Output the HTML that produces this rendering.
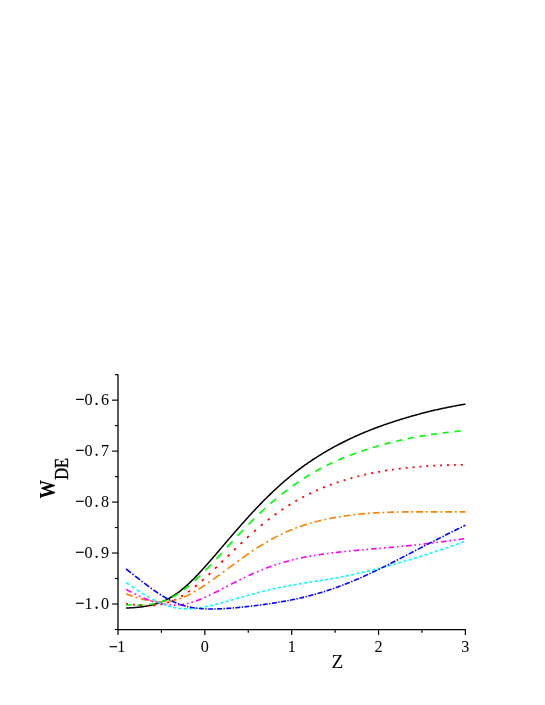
<!DOCTYPE html>
<html><head><meta charset="utf-8"><title>w_DE vs z</title>
<style>html,body{margin:0;padding:0;background:#fff;}body{width:545px;height:705px;overflow:hidden;font-family:"Liberation Serif",serif;}svg{display:block;will-change:transform;}</style></head>
<body>
<svg width="545" height="705" viewBox="0 0 545 705">
<rect width="545" height="705" fill="#fff"/>
<g fill="none" stroke-linecap="butt" stroke-linejoin="round">
<path d="M126.1,607.99 L127.1,607.96 L128.1,607.92 L129.1,607.88 L130.1,607.83 L131.1,607.78 L132.1,607.72 L133.1,607.66 L134.1,607.59 L135.1,607.52 L136.1,607.44 L137.1,607.35 L138.1,607.26 L139.1,607.16 L140.1,607.05 L141.1,606.93 L142.1,606.80 L143.1,606.67 L144.1,606.52 L145.1,606.36 L146.1,606.19 L147.1,606.02 L148.1,605.83 L149.1,605.62 L150.1,605.41 L151.1,605.18 L152.1,604.94 L153.1,604.68 L154.1,604.41 L155.1,604.12 L156.1,603.82 L157.1,603.51 L158.1,603.17 L159.1,602.82 L160.1,602.46 L161.1,602.07 L162.1,601.67 L163.1,601.25 L164.1,600.81 L165.1,600.35 L166.1,599.87 L167.1,599.37 L168.1,598.85 L169.1,598.31 L170.1,597.75 L171.1,597.17 L172.1,596.57 L173.1,595.95 L174.1,595.31 L175.1,594.65 L176.1,593.97 L177.1,593.26 L178.1,592.54 L179.1,591.79 L180.1,591.03 L181.1,590.24 L182.1,589.44 L183.1,588.61 L184.1,587.77 L185.1,586.91 L186.1,586.03 L187.1,585.13 L188.1,584.22 L189.1,583.29 L190.1,582.34 L191.1,581.38 L192.1,580.40 L193.1,579.41 L194.1,578.41 L195.1,577.39 L196.1,576.36 L197.1,575.32 L198.1,574.27 L199.1,573.20 L200.1,572.13 L201.1,571.05 L202.1,569.95 L203.1,568.85 L204.1,567.74 L205.1,566.62 L206.1,565.50 L207.1,564.37 L208.1,563.23 L209.1,562.09 L210.1,560.94 L211.1,559.79 L212.1,558.64 L213.1,557.48 L214.1,556.32 L215.1,555.15 L216.1,553.99 L217.1,552.82 L218.1,551.65 L219.1,550.48 L220.1,549.31 L221.1,548.13 L222.1,546.96 L223.1,545.79 L224.1,544.62 L225.1,543.45 L226.1,542.28 L227.1,541.11 L228.1,539.94 L229.1,538.78 L230.1,537.62 L231.1,536.45 L232.1,535.30 L233.1,534.14 L234.1,532.99 L235.1,531.83 L236.1,530.69 L237.1,529.54 L238.1,528.40 L239.1,527.26 L240.1,526.13 L241.1,525.00 L242.1,523.87 L243.1,522.74 L244.1,521.63 L245.1,520.51 L246.1,519.40 L247.1,518.29 L248.1,517.19 L249.1,516.10 L250.1,515.01 L251.1,513.92 L252.1,512.84 L253.1,511.76 L254.1,510.69 L255.1,509.63 L256.1,508.57 L257.1,507.51 L258.1,506.47 L259.1,505.42 L260.1,504.39 L261.1,503.36 L262.1,502.33 L263.1,501.32 L264.1,500.30 L265.1,499.30 L266.1,498.30 L267.1,497.31 L268.1,496.32 L269.1,495.35 L270.1,494.37 L271.1,493.41 L272.1,492.45 L273.1,491.50 L274.1,490.56 L275.1,489.62 L276.1,488.69 L277.1,487.77 L278.1,486.86 L279.1,485.95 L280.1,485.05 L281.1,484.16 L282.1,483.27 L283.1,482.40 L284.1,481.53 L285.1,480.66 L286.1,479.81 L287.1,478.96 L288.1,478.12 L289.1,477.29 L290.1,476.47 L291.1,475.65 L292.1,474.84 L293.1,474.04 L294.1,473.24 L295.1,472.46 L296.1,471.68 L297.1,470.91 L298.1,470.14 L299.1,469.38 L300.1,468.63 L301.1,467.89 L302.1,467.15 L303.1,466.42 L304.1,465.70 L305.1,464.98 L306.1,464.27 L307.1,463.57 L308.1,462.88 L309.1,462.19 L310.1,461.51 L311.1,460.83 L312.1,460.16 L313.1,459.50 L314.1,458.84 L315.1,458.19 L316.1,457.55 L317.1,456.91 L318.1,456.28 L319.1,455.65 L320.1,455.03 L321.1,454.41 L322.1,453.80 L323.1,453.20 L324.1,452.60 L325.1,452.01 L326.1,451.42 L327.1,450.84 L328.1,450.27 L329.1,449.70 L330.1,449.13 L331.1,448.57 L332.1,448.01 L333.1,447.46 L334.1,446.92 L335.1,446.37 L336.1,445.84 L337.1,445.31 L338.1,444.78 L339.1,444.26 L340.1,443.74 L341.1,443.22 L342.1,442.72 L343.1,442.21 L344.1,441.71 L345.1,441.21 L346.1,440.72 L347.1,440.23 L348.1,439.75 L349.1,439.27 L350.1,438.80 L351.1,438.32 L352.1,437.86 L353.1,437.39 L354.1,436.93 L355.1,436.48 L356.1,436.03 L357.1,435.58 L358.1,435.13 L359.1,434.70 L360.1,434.26 L361.1,433.83 L362.1,433.40 L363.1,432.98 L364.1,432.56 L365.1,432.14 L366.1,431.73 L367.1,431.32 L368.1,430.91 L369.1,430.51 L370.1,430.11 L371.1,429.72 L372.1,429.33 L373.1,428.94 L374.1,428.56 L375.1,428.18 L376.1,427.80 L377.1,427.43 L378.1,427.06 L379.1,426.69 L380.1,426.33 L381.1,425.97 L382.1,425.61 L383.1,425.25 L384.1,424.90 L385.1,424.55 L386.1,424.20 L387.1,423.86 L388.1,423.52 L389.1,423.18 L390.1,422.85 L391.1,422.51 L392.1,422.18 L393.1,421.85 L394.1,421.53 L395.1,421.21 L396.1,420.88 L397.1,420.57 L398.1,420.25 L399.1,419.94 L400.1,419.62 L401.1,419.31 L402.1,419.01 L403.1,418.70 L404.1,418.40 L405.1,418.10 L406.1,417.80 L407.1,417.50 L408.1,417.21 L409.1,416.92 L410.1,416.63 L411.1,416.34 L412.1,416.05 L413.1,415.77 L414.1,415.49 L415.1,415.21 L416.1,414.93 L417.1,414.66 L418.1,414.38 L419.1,414.11 L420.1,413.85 L421.1,413.58 L422.1,413.32 L423.1,413.06 L424.1,412.80 L425.1,412.54 L426.1,412.29 L427.1,412.03 L428.1,411.78 L429.1,411.54 L430.1,411.29 L431.1,411.05 L432.1,410.81 L433.1,410.57 L434.1,410.34 L435.1,410.10 L436.1,409.87 L437.1,409.65 L438.1,409.42 L439.1,409.20 L440.1,408.98 L441.1,408.76 L442.1,408.54 L443.1,408.33 L444.1,408.11 L445.1,407.90 L446.1,407.70 L447.1,407.49 L448.1,407.29 L449.1,407.09 L450.1,406.89 L451.1,406.69 L452.1,406.50 L453.1,406.31 L454.1,406.12 L455.1,405.93 L456.1,405.74 L457.1,405.56 L458.1,405.38 L459.1,405.20 L460.1,405.02 L461.1,404.85 L462.1,404.67 L463.1,404.50 L464.1,404.33 L465.1,404.17 L465.4,404.12" stroke="#000000" stroke-width="1.5"/>
<path d="M126.1,604.86 L127.0,604.90 L128.0,604.94 L129.0,604.98 L130.0,605.01 L131.0,605.04 L131.8,605.06 M137.4,605.15 L138.3,605.14 L139.3,605.13 L140.3,605.12 L141.3,605.09 L142.3,605.05 L143.3,605.01 L143.4,605.00 M149.1,604.53 L150.0,604.41 L151.0,604.27 L152.0,604.12 L153.0,603.95 L154.0,603.76 L155.0,603.56 L155.1,603.54 M160.7,602.09 L161.7,601.78 L162.7,601.45 L163.7,601.09 L164.7,600.72 L165.7,600.33 L166.7,599.92 L166.7,599.92 M172.2,597.27 L173.2,596.75 L174.2,596.19 L175.2,595.60 L176.2,595.00 L177.2,594.37 L178.1,593.78 M183.6,589.97 L184.5,589.26 L185.5,588.49 L186.5,587.70 L187.5,586.90 L188.5,586.09 L189.3,585.41 M194.6,580.80 L195.6,579.94 L196.6,579.02 L197.6,578.10 L198.6,577.16 L199.6,576.21 L200.3,575.53 M205.6,570.36 L206.5,569.40 L207.5,568.38 L208.5,567.35 L209.5,566.31 L210.5,565.27 L211.1,564.59 M216.3,559.05 L217.3,558.00 L218.3,556.91 L219.3,555.82 L220.3,554.73 L221.3,553.63 L221.9,553.01 M227.0,547.33 L228.0,546.27 L229.0,545.18 L230.0,544.08 L231.0,542.98 L232.0,541.89 L232.6,541.27 M237.7,535.66 L238.7,534.64 L239.7,533.58 L240.7,532.51 L241.7,531.46 L242.7,530.40 L243.3,529.76 M248.5,524.37 L249.5,523.38 L250.5,522.37 L251.5,521.37 L252.5,520.37 L253.5,519.38 L254.1,518.75 M259.4,513.66 L260.3,512.81 L261.3,511.87 L262.3,510.93 L263.3,510.01 L264.3,509.09 L265.1,508.39 M270.4,503.65 L271.3,502.84 L272.3,501.98 L273.3,501.12 L274.3,500.27 L275.3,499.43 L276.1,498.76 M281.5,494.39 L282.4,493.64 L283.4,492.86 L284.4,492.08 L285.4,491.31 L286.4,490.54 L287.2,489.91 M292.6,485.93 L293.6,485.24 L294.6,484.53 L295.6,483.83 L296.6,483.14 L297.6,482.45 L298.5,481.86 M303.9,478.27 L304.9,477.64 L305.9,477.02 L306.9,476.39 L307.9,475.78 L308.9,475.17 L309.8,474.64 M315.3,471.44 L316.2,470.92 L317.2,470.37 L318.2,469.82 L319.2,469.28 L320.2,468.75 L321.2,468.22 M326.7,465.41 L327.7,464.92 L328.7,464.44 L329.7,463.96 L330.7,463.49 L331.7,463.02 L332.6,462.58 M338.2,460.10 L339.1,459.71 L340.1,459.29 L341.1,458.87 L342.1,458.45 L343.1,458.04 L344.1,457.63 L344.2,457.60 M349.7,455.41 L350.7,455.04 L351.7,454.67 L352.7,454.29 L353.7,453.92 L354.7,453.56 L355.7,453.20 L355.7,453.19 M361.3,451.24 L362.2,450.93 L363.2,450.60 L364.2,450.26 L365.2,449.93 L366.2,449.61 L367.2,449.28 L367.3,449.25 M372.9,447.50 L373.8,447.23 L374.8,446.92 L375.8,446.63 L376.8,446.33 L377.8,446.04 L378.8,445.75 L378.9,445.72 M384.5,444.16 L385.4,443.91 L386.4,443.65 L387.4,443.38 L388.4,443.12 L389.4,442.86 L390.4,442.61 L390.5,442.58 M396.1,441.20 L397.1,440.97 L398.1,440.74 L399.1,440.51 L400.1,440.28 L401.1,440.05 L402.1,439.83 L402.1,439.82 M407.8,438.63 L408.7,438.44 L409.7,438.24 L410.7,438.05 L411.7,437.85 L412.7,437.66 L413.7,437.47 L413.8,437.46 M419.4,436.44 L420.4,436.27 L421.4,436.10 L422.4,435.93 L423.4,435.76 L424.4,435.60 L425.4,435.44 L425.4,435.43 M431.1,434.56 L432.0,434.43 L433.0,434.28 L434.0,434.14 L435.0,433.99 L436.0,433.85 L437.0,433.71 L437.1,433.70 M442.7,432.95 L443.7,432.83 L444.7,432.71 L445.7,432.58 L446.7,432.46 L447.7,432.34 L448.7,432.22 L448.8,432.21 M454.4,431.57 L455.4,431.46 L456.4,431.36 L457.4,431.25 L458.4,431.15 L459.4,431.04 L460.4,430.94 L460.5,430.94" stroke="#00ff00" stroke-width="1.65"/>
<path d="M126.1,603.72 L127.0,603.83 L127.8,603.94 M132.8,604.55 L133.8,604.67 L134.7,604.77 M139.7,605.28 L140.6,605.36 L141.6,605.44 M146.6,605.71 L147.5,605.73 L148.5,605.74 M153.5,605.56 L154.4,605.48 L155.4,605.39 M160.4,604.62 L161.3,604.43 L162.3,604.21 M167.3,602.81 L168.2,602.50 L169.2,602.15 M174.2,600.11 L175.1,599.68 L176.1,599.21 M181.1,596.51 L182.0,595.96 L183.0,595.35 M188.0,592.02 L188.9,591.36 L189.9,590.64 M194.9,586.76 L195.8,586.00 L196.8,585.20 M201.8,580.89 L202.7,580.07 L203.7,579.20 M208.5,574.74 L209.5,573.82 L210.3,573.04 M215.0,568.58 L215.9,567.71 L216.8,566.89 M221.3,562.42 L222.3,561.49 L223.1,560.73 M227.7,556.27 L228.6,555.35 L229.4,554.57 M234.0,550.11 L235.0,549.16 L235.8,548.41 M240.5,543.95 L241.4,543.07 L242.3,542.25 M247.1,537.79 L248.0,536.95 L248.9,536.10 M253.9,531.65 L254.9,530.80 L255.8,529.99 M260.8,525.74 L261.8,524.93 L262.7,524.17 M267.7,520.16 L268.7,519.40 L269.6,518.69 M274.6,514.93 L275.6,514.21 L276.5,513.55 M281.5,510.05 L282.5,509.38 L283.4,508.77 M288.4,505.52 L289.4,504.90 L290.3,504.33 M295.3,501.32 L296.3,500.74 L297.2,500.22 M302.2,497.44 L303.2,496.91 L304.1,496.43 M309.1,493.88 L310.0,493.44 L311.0,492.96 M316.0,490.64 L316.9,490.23 L317.9,489.80 M322.9,487.69 L323.8,487.33 L324.8,486.94 M329.8,485.03 L330.7,484.70 L331.7,484.34 M336.7,482.60 L337.6,482.30 L338.6,481.97 M343.6,480.39 L344.5,480.11 L345.5,479.81 M350.5,478.36 L351.4,478.10 L352.4,477.83 M357.4,476.50 L358.3,476.27 L359.3,476.02 M364.3,474.82 L365.2,474.61 L366.2,474.39 M371.2,473.31 L372.1,473.12 L373.1,472.92 M378.1,471.96 L379.0,471.79 L380.0,471.61 M385.0,470.76 L385.9,470.61 L386.9,470.46 M391.9,469.71 L392.8,469.58 L393.8,469.44 M398.8,468.79 L399.7,468.67 L400.7,468.56 M405.7,467.99 L406.6,467.89 L407.6,467.79 M412.6,467.29 L413.5,467.20 L414.5,467.12 M419.5,466.69 L420.4,466.62 L421.3,466.54 M426.3,466.18 L427.3,466.12 L428.2,466.05 M433.2,465.75 L434.2,465.70 L435.1,465.64 M440.1,465.40 L441.1,465.36 L442.0,465.32 M447.0,465.12 L448.0,465.09 L448.9,465.06 M453.9,464.93 L454.9,464.91 L455.8,464.89 M460.8,464.81 L461.8,464.80 L462.7,464.79" stroke="#ff0000" stroke-width="1.75"/>
<path d="M126.1,593.92 L127.0,594.24 L128.0,594.59 L129.0,594.94 L130.0,595.28 L131.0,595.63 L132.0,595.96 L132.8,596.21 M135.7,597.15 L136.6,597.44 L137.5,597.71 M140.5,598.58 L141.4,598.84 L142.4,599.11 L143.4,599.36 L144.4,599.61 L145.4,599.85 L146.4,600.07 L147.3,600.26 M150.2,600.82 L151.1,600.98 L152.0,601.11 M155.0,601.50 L155.9,601.59 L156.9,601.68 L157.9,601.75 L158.9,601.80 L159.9,601.84 L160.9,601.85 L161.8,601.86 M164.7,601.77 L165.6,601.70 L166.5,601.63 M169.5,601.26 L170.4,601.11 L171.4,600.93 L172.4,600.73 L173.4,600.51 L174.4,600.27 L175.4,600.00 L176.3,599.75 M179.2,598.83 L180.2,598.47 L181.0,598.18 M184.0,596.96 L185.0,596.53 L186.0,596.07 L187.0,595.61 L188.0,595.12 L189.0,594.63 L190.0,594.12 L190.8,593.69 M193.7,592.11 L194.7,591.55 L195.5,591.07 M198.5,589.28 L199.5,588.67 L200.5,588.04 L201.5,587.40 L202.5,586.76 L203.5,586.11 L204.5,585.45 L205.3,584.89 M208.2,582.92 L209.2,582.25 L210.0,581.66 M213.0,579.54 L214.0,578.85 L215.0,578.12 L216.0,577.40 L217.0,576.67 L218.0,575.94 L219.0,575.20 L219.8,574.58 M222.7,572.44 L223.7,571.73 L224.5,571.09 M227.6,568.86 L228.5,568.15 L229.5,567.40 L230.5,566.66 L231.5,565.91 L232.5,565.17 L233.5,564.43 L234.4,563.80 M237.3,561.66 L238.2,560.97 L239.1,560.35 M242.1,558.17 L243.0,557.50 L244.0,556.79 L245.0,556.08 L246.0,555.38 L247.0,554.68 L248.0,553.98 L248.9,553.38 M251.8,551.40 L252.7,550.78 L253.6,550.19 M256.6,548.22 L257.5,547.63 L258.5,546.99 L259.5,546.35 L260.5,545.72 L261.5,545.10 L262.5,544.49 L263.4,543.95 M266.3,542.22 L267.2,541.69 L268.1,541.18 M271.1,539.49 L272.0,538.99 L273.0,538.45 L274.0,537.92 L275.0,537.39 L276.0,536.87 L277.0,536.36 L277.9,535.90 M280.8,534.47 L281.8,534.00 L282.6,533.62 M285.6,532.24 L286.6,531.80 L287.6,531.37 L288.6,530.94 L289.6,530.51 L290.6,530.10 L291.6,529.69 L292.4,529.36 M295.3,528.23 L296.3,527.86 L297.1,527.55 M300.1,526.47 L301.1,526.14 L302.1,525.80 L303.1,525.46 L304.1,525.13 L305.1,524.81 L306.1,524.50 L306.9,524.24 M309.8,523.37 L310.8,523.09 L311.6,522.85 M314.6,522.03 L315.6,521.78 L316.6,521.52 L317.6,521.27 L318.6,521.02 L319.6,520.77 L320.6,520.53 L321.4,520.34 M324.4,519.68 L325.3,519.47 L326.2,519.29 M329.2,518.67 L330.1,518.49 L331.1,518.29 L332.1,518.10 L333.1,517.91 L334.1,517.73 L335.1,517.55 L336.0,517.40 M338.9,516.91 L339.8,516.76 L340.7,516.62 M343.7,516.16 L344.6,516.02 L345.6,515.87 L346.6,515.73 L347.6,515.60 L348.6,515.46 L349.6,515.33 L350.5,515.21 M353.4,514.85 L354.3,514.75 L355.2,514.64 M358.2,514.31 L359.1,514.22 L360.1,514.11 L361.1,514.01 L362.1,513.92 L363.1,513.82 L364.1,513.73 L365.0,513.65 M367.9,513.41 L368.8,513.33 L369.7,513.26 M372.7,513.04 L373.7,512.98 L374.7,512.91 L375.7,512.85 L376.7,512.79 L377.7,512.73 L378.7,512.67 L379.5,512.63 M382.4,512.48 L383.4,512.44 L384.2,512.40 M387.2,512.28 L388.2,512.24 L389.2,512.21 L390.2,512.18 L391.2,512.15 L392.2,512.12 L393.2,512.09 L394.0,512.07 M396.9,512.01 L397.9,512.00 L398.7,511.98 M401.7,511.94 L402.7,511.93 L403.7,511.92 L404.7,511.91 L405.7,511.90 L406.7,511.90 L407.7,511.89 L408.5,511.89 M411.4,511.88 L412.4,511.87 L413.2,511.87 M416.2,511.87 L417.2,511.87 L418.2,511.87 L419.2,511.87 L420.2,511.87 L421.2,511.88 L422.2,511.88 L423.1,511.88 M426.0,511.89 L426.9,511.89 L427.8,511.89 M430.8,511.90 L431.7,511.90 L432.7,511.90 L433.7,511.90 L434.7,511.91 L435.7,511.91 L436.7,511.91 L437.6,511.91 M440.5,511.91 L441.4,511.92 L442.3,511.92 M445.3,511.92 L446.2,511.92 L447.2,511.92 L448.2,511.92 L449.2,511.92 L450.2,511.92 L451.2,511.92 L452.1,511.92 M455.0,511.91 L455.9,511.91 L456.8,511.91 M459.8,511.91 L460.7,511.90 L461.7,511.90 L462.7,511.90 L463.7,511.90 L464.7,511.89 L465.4,511.89" stroke="#ff8000" stroke-width="1.6"/>
<path d="M126.1,589.33 L127.0,589.82 L128.0,590.36 L129.0,590.90 L130.0,591.44 L131.0,591.96 L131.5,592.21 M134.4,593.69 L135.3,594.16 L135.9,594.48 M138.8,595.87 L139.8,596.32 L140.4,596.61 M143.5,597.97 L144.5,598.39 L145.5,598.80 L146.5,599.19 L147.5,599.58 L148.5,599.96 L149.0,600.13 M151.9,601.13 L152.8,601.43 L153.4,601.64 M156.3,602.48 L157.3,602.74 L157.9,602.90 M161.0,603.62 L162.0,603.82 L163.0,604.01 L164.0,604.19 L165.0,604.36 L166.0,604.50 L166.5,604.57 M169.4,604.89 L170.3,604.97 L170.9,605.01 M173.8,605.11 L174.8,605.12 L175.4,605.11 M178.5,604.96 L179.5,604.87 L180.5,604.77 L181.5,604.65 L182.5,604.51 L183.5,604.35 L184.0,604.26 M186.9,603.68 L187.8,603.46 L188.5,603.30 M191.3,602.51 L192.3,602.21 L192.9,602.02 M196.0,600.97 L197.0,600.61 L198.0,600.24 L199.0,599.85 L200.0,599.45 L201.0,599.05 L201.5,598.85 M204.4,597.61 L205.3,597.19 L206.0,596.90 M208.8,595.56 L209.8,595.10 L210.4,594.80 M213.5,593.29 L214.5,592.80 L215.5,592.29 L216.5,591.79 L217.5,591.28 L218.5,590.77 L219.0,590.52 M221.9,589.03 L222.8,588.55 L223.5,588.21 M226.3,586.71 L227.3,586.21 L227.9,585.88 M231.0,584.28 L232.0,583.78 L233.0,583.26 L234.0,582.75 L235.0,582.24 L236.0,581.73 L236.5,581.49 M239.4,580.04 L240.3,579.58 L241.0,579.26 M243.8,577.85 L244.8,577.40 L245.4,577.09 M248.5,575.64 L249.5,575.19 L250.5,574.73 L251.5,574.28 L252.5,573.83 L253.5,573.39 L254.0,573.17 M256.9,571.92 L257.8,571.52 L258.5,571.25 M261.3,570.05 L262.3,569.67 L262.9,569.41 M266.0,568.21 L267.0,567.84 L268.0,567.46 L269.0,567.09 L270.0,566.73 L271.0,566.37 L271.5,566.19 M274.4,565.19 L275.3,564.88 L276.0,564.66 M278.8,563.72 L279.8,563.42 L280.4,563.22 M283.5,562.30 L284.5,562.01 L285.5,561.73 L286.5,561.45 L287.5,561.17 L288.5,560.90 L289.0,560.77 M291.9,560.03 L292.8,559.80 L293.5,559.63 M296.4,558.95 L297.3,558.73 L297.9,558.58 M301.0,557.91 L302.0,557.71 L303.0,557.50 L304.0,557.30 L305.0,557.10 L306.0,556.90 L306.5,556.81 M309.4,556.27 L310.3,556.11 L311.0,555.99 M313.9,555.50 L314.8,555.34 L315.4,555.24 M318.5,554.75 L319.5,554.61 L320.5,554.46 L321.5,554.31 L322.5,554.17 L323.5,554.03 L324.0,553.96 M326.9,553.57 L327.8,553.45 L328.5,553.36 M331.4,553.00 L332.3,552.89 L333.0,552.81 M336.0,552.44 L337.0,552.33 L338.0,552.22 L339.0,552.11 L340.0,552.00 L341.0,551.89 L341.5,551.84 M344.4,551.53 L345.3,551.44 L346.0,551.37 M348.9,551.08 L349.8,550.99 L350.5,550.92 M353.5,550.63 L354.5,550.54 L355.5,550.44 L356.5,550.35 L357.5,550.26 L358.5,550.17 L359.0,550.12 M361.9,549.86 L362.8,549.78 L363.5,549.72 M366.4,549.47 L367.3,549.39 L368.0,549.33 M371.0,549.07 L372.0,548.99 L373.0,548.90 L374.0,548.82 L375.0,548.73 L376.0,548.65 L376.5,548.61 M379.4,548.36 L380.3,548.28 L381.0,548.22 M383.9,547.98 L384.8,547.89 L385.5,547.84 M388.5,547.57 L389.5,547.48 L390.5,547.39 L391.5,547.30 L392.5,547.21 L393.5,547.12 L394.0,547.07 M396.9,546.81 L397.8,546.72 L398.5,546.66 M401.4,546.39 L402.3,546.30 L403.0,546.23 M406.0,545.93 L407.0,545.83 L408.0,545.73 L409.0,545.63 L410.0,545.53 L411.0,545.42 L411.5,545.37 M414.4,545.06 L415.3,544.97 L416.0,544.89 M418.9,544.57 L419.8,544.47 L420.5,544.39 M423.5,544.04 L424.5,543.93 L425.5,543.81 L426.5,543.69 L427.5,543.57 L428.5,543.45 L429.0,543.39 M431.9,543.04 L432.9,542.92 L433.5,542.84 M436.4,542.48 L437.3,542.37 L438.0,542.28 M441.1,541.88 L442.0,541.76 L443.0,541.63 L444.0,541.50 L445.0,541.36 L446.0,541.23 L446.5,541.16 M449.4,540.77 L450.4,540.64 L451.0,540.55 M453.9,540.16 L454.8,540.03 L455.5,539.93 M458.6,539.50 L459.5,539.36 L460.5,539.22 L461.5,539.08 L462.5,538.93 L463.5,538.79 L464.0,538.71" stroke="#ff00ff" stroke-width="1.6"/>
<path d="M126.2,582.65 L127.2,583.34 L128.2,584.03 L129.1,584.65 M131.4,586.24 L132.4,586.90 L133.4,587.57 L134.3,588.19 M136.7,589.74 L137.6,590.35 L138.6,591.00 L139.6,591.61 M141.9,593.10 L142.8,593.66 L143.8,594.28 L144.8,594.88 M147.1,596.27 L148.1,596.84 L149.1,597.41 L150.0,597.93 M152.4,599.21 L153.3,599.70 L154.3,600.22 L155.3,600.70 M157.6,601.84 L158.5,602.26 L159.5,602.71 L160.5,603.14 M162.8,604.11 L163.8,604.48 L164.8,604.86 L165.7,605.18 M168.1,605.96 L169.0,606.25 L170.0,606.54 L170.9,606.80 M173.3,607.37 L174.2,607.57 L175.2,607.77 L176.2,607.95 M178.5,608.32 L179.5,608.44 L180.5,608.55 L181.4,608.64 M183.8,608.80 L184.7,608.84 L185.7,608.87 L186.6,608.88 M189.0,608.85 L189.9,608.81 L190.9,608.77 L191.9,608.70 M194.2,608.51 L195.2,608.41 L196.2,608.29 L197.1,608.18 M199.4,607.85 L200.4,607.70 L201.4,607.53 L202.3,607.37 M204.7,606.93 L205.6,606.75 L206.6,606.54 L207.6,606.33 M209.9,605.81 L210.9,605.59 L211.9,605.35 L212.8,605.13 M215.1,604.55 L216.1,604.31 L217.1,604.05 L218.0,603.81 M220.4,603.18 L221.3,602.93 L222.3,602.66 L223.3,602.39 M225.6,601.73 L226.6,601.45 L227.6,601.17 L228.5,600.91 M230.8,600.24 L231.8,599.96 L232.8,599.67 L233.7,599.40 M236.1,598.72 L237.0,598.46 L238.0,598.17 L239.0,597.89 M241.3,597.21 L242.3,596.92 L243.3,596.64 L244.2,596.38 M246.5,595.72 L247.5,595.45 L248.5,595.17 L249.4,594.91 M251.8,594.26 L252.7,594.01 L253.7,593.74 L254.7,593.48 M257.0,592.86 L258.0,592.60 L259.0,592.34 L259.9,592.11 M262.2,591.52 L263.2,591.28 L264.2,591.03 L265.1,590.81 M267.5,590.25 L268.4,590.03 L269.4,589.79 L270.4,589.57 M272.7,589.04 L273.6,588.84 L274.6,588.62 L275.6,588.40 M277.9,587.90 L278.9,587.70 L279.9,587.49 L280.8,587.30 M283.2,586.83 L284.1,586.64 L285.1,586.45 L286.1,586.26 M288.4,585.82 L289.3,585.65 L290.3,585.46 L291.3,585.28 M293.6,584.86 L294.6,584.69 L295.6,584.51 L296.5,584.35 M298.9,583.95 L299.8,583.79 L300.8,583.62 L301.7,583.47 M304.1,583.08 L305.0,582.94 L306.0,582.78 L307.0,582.62 M309.3,582.25 L310.3,582.09 L311.3,581.93 L312.2,581.79 M314.6,581.42 L315.5,581.27 L316.5,581.11 L317.4,580.96 M319.8,580.59 L320.7,580.45 L321.7,580.29 L322.7,580.13 M325.0,579.75 L326.0,579.59 L327.0,579.42 L327.9,579.27 M330.2,578.87 L331.2,578.71 L332.2,578.54 L333.1,578.37 M335.5,577.96 L336.4,577.79 L337.4,577.61 L338.4,577.43 M340.7,576.99 L341.7,576.80 L342.7,576.61 L343.6,576.43 M345.9,575.97 L346.9,575.78 L347.9,575.58 L348.8,575.38 M351.2,574.90 L352.1,574.70 L353.1,574.49 L354.1,574.28 M356.4,573.76 L357.4,573.54 L358.4,573.32 L359.3,573.12 M361.6,572.58 L362.6,572.36 L363.6,572.12 L364.5,571.91 M366.9,571.35 L367.8,571.12 L368.8,570.88 L369.8,570.65 M372.1,570.07 L373.1,569.82 L374.1,569.57 L375.0,569.34 M377.3,568.74 L378.3,568.49 L379.3,568.23 L380.2,567.99 M382.6,567.37 L383.5,567.13 L384.5,566.86 L385.5,566.60 M387.8,565.97 L388.8,565.70 L389.8,565.42 L390.7,565.18 M393.0,564.53 L394.0,564.26 L395.0,563.98 L395.9,563.72 M398.3,563.05 L399.2,562.79 L400.2,562.50 L401.2,562.22 M403.5,561.54 L404.4,561.28 L405.4,560.98 L406.4,560.69 M408.7,559.99 L409.7,559.70 L410.7,559.40 L411.6,559.12 M414.0,558.40 L414.9,558.11 L415.9,557.80 L416.9,557.50 M419.2,556.77 L420.1,556.48 L421.1,556.16 L422.1,555.85 M424.4,555.09 L425.4,554.78 L426.4,554.45 L427.3,554.15 M429.7,553.38 L430.6,553.07 L431.6,552.74 L432.5,552.43 M434.9,551.65 L435.8,551.34 L436.8,551.01 L437.8,550.68 M440.1,549.89 L441.1,549.56 L442.1,549.22 L443.0,548.92 M445.4,548.12 L446.3,547.80 L447.3,547.46 L448.2,547.14 M450.6,546.34 L451.5,546.03 L452.5,545.69 L453.5,545.35 M455.8,544.55 L456.8,544.22 L457.8,543.88 L458.7,543.57 M461.0,542.77 L462.0,542.45 L463.0,542.11 L463.9,541.79" stroke="#00ffff" stroke-width="1.6"/>
<path d="M126.1,569.00 L127.0,569.71 L128.0,570.50 L129.0,571.28 L130.0,572.07 L130.9,572.76 M132.4,573.92 L133.3,574.66 L133.6,574.92 M135.1,576.07 L136.1,576.86 L137.1,577.64 L138.1,578.42 L139.1,579.20 L140.0,579.90 M141.5,581.04 L142.4,581.76 L142.7,582.03 M144.2,583.15 L145.2,583.90 L146.2,584.66 L147.2,585.41 L148.2,586.16 L149.1,586.84 M150.6,587.92 L151.5,588.58 L151.9,588.84 M153.3,589.89 L154.3,590.56 L155.3,591.26 L156.3,591.94 L157.3,592.61 L158.2,593.23 M159.7,594.19 L160.7,594.82 L161.0,595.00 M162.5,595.90 L163.4,596.47 L164.4,597.06 L165.4,597.64 L166.4,598.20 L167.4,598.72 M168.8,599.50 L169.8,600.00 L170.1,600.16 M171.6,600.88 L172.5,601.32 L173.5,601.78 L174.5,602.22 L175.5,602.65 L176.5,603.05 M177.9,603.63 L178.9,603.99 L179.2,604.11 M180.7,604.63 L181.6,604.93 L182.6,605.25 L183.6,605.55 L184.6,605.84 L185.6,606.11 M187.1,606.49 L188.0,606.71 L188.3,606.79 M189.8,607.11 L190.8,607.31 L191.8,607.49 L192.8,607.67 L193.8,607.83 L194.7,607.96 M196.2,608.16 L197.1,608.27 L197.5,608.31 M198.9,608.47 L199.9,608.55 L200.9,608.64 L201.9,608.71 L202.9,608.77 L203.8,608.82 M205.3,608.89 L206.3,608.93 L206.6,608.93 M208.1,608.97 L209.0,608.99 L210.0,609.00 L211.0,609.00 L212.0,609.00 L213.0,608.99 M214.4,608.97 L215.4,608.95 L215.7,608.94 M217.2,608.91 L218.1,608.88 L219.1,608.84 L220.1,608.80 L221.1,608.75 L222.1,608.71 M223.5,608.63 L224.5,608.58 L224.8,608.56 M226.3,608.47 L227.2,608.41 L228.2,608.34 L229.2,608.27 L230.2,608.20 L231.2,608.12 M232.7,608.00 L233.6,607.92 L233.9,607.90 M235.4,607.77 L236.4,607.68 L237.4,607.59 L238.4,607.49 L239.4,607.39 L240.3,607.30 M241.8,607.16 L242.7,607.06 L243.1,607.02 M244.5,606.87 L245.5,606.76 L246.5,606.65 L247.5,606.54 L248.5,606.43 L249.4,606.32 M250.9,606.15 L251.9,606.03 L252.2,605.99 M253.6,605.81 L254.6,605.69 L255.6,605.57 L256.6,605.44 L257.6,605.31 L258.5,605.19 M260.0,604.99 L261.0,604.86 L261.3,604.82 M262.8,604.62 L263.7,604.49 L264.7,604.35 L265.7,604.21 L266.7,604.07 L267.7,603.93 M269.1,603.71 L270.1,603.57 L270.4,603.52 M271.9,603.30 L272.8,603.16 L273.8,603.00 L274.8,602.84 L275.8,602.68 L276.8,602.53 M278.3,602.29 L279.2,602.13 L279.5,602.07 M281.0,601.83 L282.0,601.66 L283.0,601.48 L284.0,601.31 L285.0,601.13 L285.9,600.96 M287.4,600.69 L288.3,600.52 L288.7,600.46 M290.1,600.17 L291.1,599.98 L292.1,599.79 L293.1,599.59 L294.1,599.38 L295.0,599.19 M296.5,598.88 L297.4,598.69 L297.8,598.61 M299.2,598.28 L300.2,598.07 L301.2,597.84 L302.2,597.61 L303.2,597.37 L304.1,597.15 M305.6,596.79 L306.6,596.55 L306.9,596.47 M308.4,596.10 L309.3,595.86 L310.3,595.60 L311.3,595.33 L312.3,595.06 L313.3,594.80 M314.7,594.39 L315.7,594.12 L316.0,594.03 M317.5,593.60 L318.4,593.33 L319.4,593.04 L320.4,592.74 L321.4,592.43 L322.4,592.13 M323.9,591.67 L324.8,591.37 L325.1,591.26 M326.6,590.79 L327.5,590.49 L328.5,590.16 L329.5,589.83 L330.5,589.49 L331.5,589.15 L331.5,589.15 M333.0,588.64 L333.9,588.31 L334.2,588.19 M335.7,587.67 L336.7,587.31 L337.7,586.95 L338.7,586.58 L339.7,586.21 L340.6,585.87 M342.1,585.32 L343.0,584.97 L343.4,584.83 M344.8,584.26 L345.8,583.89 L346.8,583.50 L347.8,583.10 L348.8,582.70 L349.7,582.32 M351.2,581.73 L352.2,581.32 L352.5,581.20 M354.0,580.59 L354.9,580.20 L355.9,579.78 L356.9,579.35 L357.9,578.92 L358.9,578.51 M360.3,577.87 L361.3,577.45 L361.6,577.31 M363.1,576.66 L364.0,576.25 L365.0,575.80 L366.0,575.35 L367.0,574.89 L368.0,574.44 M369.4,573.77 L370.4,573.33 L370.7,573.17 M372.2,572.49 L373.1,572.06 L374.1,571.58 L375.1,571.11 L376.1,570.63 L377.1,570.15 M378.6,569.44 L379.5,568.98 L379.8,568.82 M381.3,568.10 L382.3,567.61 L383.3,567.11 L384.3,566.62 L385.3,566.12 L386.2,565.66 M387.7,564.92 L388.6,564.46 L389.0,564.28 M390.4,563.53 L391.4,563.04 L392.4,562.53 L393.4,562.02 L394.4,561.51 L395.3,561.03 M396.8,560.27 L397.8,559.76 L398.1,559.61 M399.6,558.85 L400.5,558.36 L401.5,557.84 L402.5,557.32 L403.5,556.80 L404.5,556.31 M405.9,555.54 L406.9,555.03 L407.2,554.88 M408.7,554.11 L409.6,553.63 L410.6,553.10 L411.6,552.58 L412.6,552.06 L413.6,551.55 M415.0,550.79 L416.0,550.29 L416.3,550.12 M417.8,549.35 L418.7,548.88 L419.7,548.36 L420.7,547.84 L421.7,547.32 L422.7,546.80 M424.2,546.04 L425.1,545.55 L425.4,545.38 M426.9,544.62 L427.9,544.10 L428.9,543.59 L429.9,543.07 L430.9,542.56 L431.8,542.09 M433.3,541.33 L434.2,540.86 L434.6,540.68 M436.0,539.93 L437.0,539.43 L438.0,538.92 L439.0,538.41 L440.0,537.90 L440.9,537.43 M442.4,536.69 L443.4,536.18 L443.7,536.04 M445.1,535.30 L446.1,534.82 L447.1,534.32 L448.1,533.82 L449.1,533.32 L450.0,532.85 M451.5,532.12 L452.5,531.63 L452.8,531.49 M454.3,530.76 L455.2,530.30 L456.2,529.80 L457.2,529.31 L458.2,528.82 L459.2,528.35 M460.6,527.63 L461.6,527.16 L461.9,527.00 M463.4,526.29 L464.3,525.84 L465.3,525.35 L465.4,525.31" stroke="#0000ff" stroke-width="1.6"/>
</g>
<g stroke="#000" stroke-width="1.3" fill="none">
<line x1="118.0" y1="374.17" x2="118.0" y2="630.10"/>
<line x1="117.5" y1="629.6" x2="465.90" y2="629.6"/>
<line x1="115.00" y1="374.67" x2="118.0" y2="374.67" stroke-width="1.15"/>
<line x1="112.00" y1="400.15" x2="118.0" y2="400.15" stroke-width="1.15"/>
<line x1="115.00" y1="425.63" x2="118.0" y2="425.63" stroke-width="1.15"/>
<line x1="112.00" y1="451.11" x2="118.0" y2="451.11" stroke-width="1.15"/>
<line x1="115.00" y1="476.59" x2="118.0" y2="476.59" stroke-width="1.15"/>
<line x1="112.00" y1="502.07" x2="118.0" y2="502.07" stroke-width="1.15"/>
<line x1="115.00" y1="527.55" x2="118.0" y2="527.55" stroke-width="1.15"/>
<line x1="112.00" y1="553.03" x2="118.0" y2="553.03" stroke-width="1.15"/>
<line x1="115.00" y1="578.51" x2="118.0" y2="578.51" stroke-width="1.15"/>
<line x1="112.00" y1="603.99" x2="118.0" y2="603.99" stroke-width="1.15"/>
<line x1="115.00" y1="629.47" x2="118.0" y2="629.47" stroke-width="1.15"/>
<line x1="118.00" y1="629.6" x2="118.00" y2="634.90" stroke-width="1.2"/>
<line x1="161.43" y1="629.6" x2="161.43" y2="632.80" stroke-width="1.2"/>
<line x1="204.85" y1="629.6" x2="204.85" y2="634.90" stroke-width="1.2"/>
<line x1="248.27" y1="629.6" x2="248.27" y2="632.80" stroke-width="1.2"/>
<line x1="291.70" y1="629.6" x2="291.70" y2="634.90" stroke-width="1.2"/>
<line x1="335.12" y1="629.6" x2="335.12" y2="632.80" stroke-width="1.2"/>
<line x1="378.55" y1="629.6" x2="378.55" y2="634.90" stroke-width="1.2"/>
<line x1="421.97" y1="629.6" x2="421.97" y2="632.80" stroke-width="1.2"/>
<line x1="465.40" y1="629.6" x2="465.40" y2="634.90" stroke-width="1.2"/>
</g>
<g font-family="'Liberation Serif', serif" font-size="16.2" fill="#000">
<rect x="76.1" y="398.80" width="7.7" height="1.2"/>
<circle cx="96.6" cy="403.90" r="1.15"/>
<text y="405.45" text-anchor="middle"><tspan x="88.53">0</tspan><tspan x="105.02">6</tspan></text>
<rect x="76.1" y="449.76" width="7.7" height="1.2"/>
<circle cx="96.6" cy="454.86" r="1.15"/>
<text y="456.41" text-anchor="middle"><tspan x="88.53">0</tspan><tspan x="105.02">7</tspan></text>
<rect x="76.1" y="500.72" width="7.7" height="1.2"/>
<circle cx="96.6" cy="505.82" r="1.15"/>
<text y="507.37" text-anchor="middle"><tspan x="88.53">0</tspan><tspan x="105.02">8</tspan></text>
<rect x="76.1" y="551.68" width="7.7" height="1.2"/>
<circle cx="96.6" cy="556.78" r="1.15"/>
<text y="558.33" text-anchor="middle"><tspan x="88.53">0</tspan><tspan x="105.02">9</tspan></text>
<rect x="76.1" y="602.64" width="7.7" height="1.2"/>
<circle cx="96.6" cy="607.74" r="1.15"/>
<text y="609.29" text-anchor="middle"><tspan x="88.53">1</tspan><tspan x="105.02">0</tspan></text>
<rect x="109.7" y="646.1" width="7.4" height="1.2"/><text y="652.3" text-anchor="middle"><tspan x="121.40">1</tspan></text>
<text x="204.85" y="652.3" text-anchor="middle">0</text>
<text x="291.70" y="652.3" text-anchor="middle">1</text>
<text x="378.55" y="652.3" text-anchor="middle">2</text>
<text x="465.40" y="652.3" text-anchor="middle">3</text>
</g>
<text x="337.4" y="668" text-anchor="middle" font-family="'Liberation Serif', serif" font-size="19.4" fill="#000">Z</text>
<g transform="translate(54.8,498.4) rotate(-90)" font-family="'Liberation Serif', serif" fill="#000"><text x="0" y="0" font-size="22.3" font-weight="bold" textLength="18.5" lengthAdjust="spacingAndGlyphs">W</text><text x="18.6" y="13.3" font-size="19" textLength="21.8" lengthAdjust="spacingAndGlyphs" stroke="#000" stroke-width="0.35">DE</text></g>
</svg>
</body></html>
